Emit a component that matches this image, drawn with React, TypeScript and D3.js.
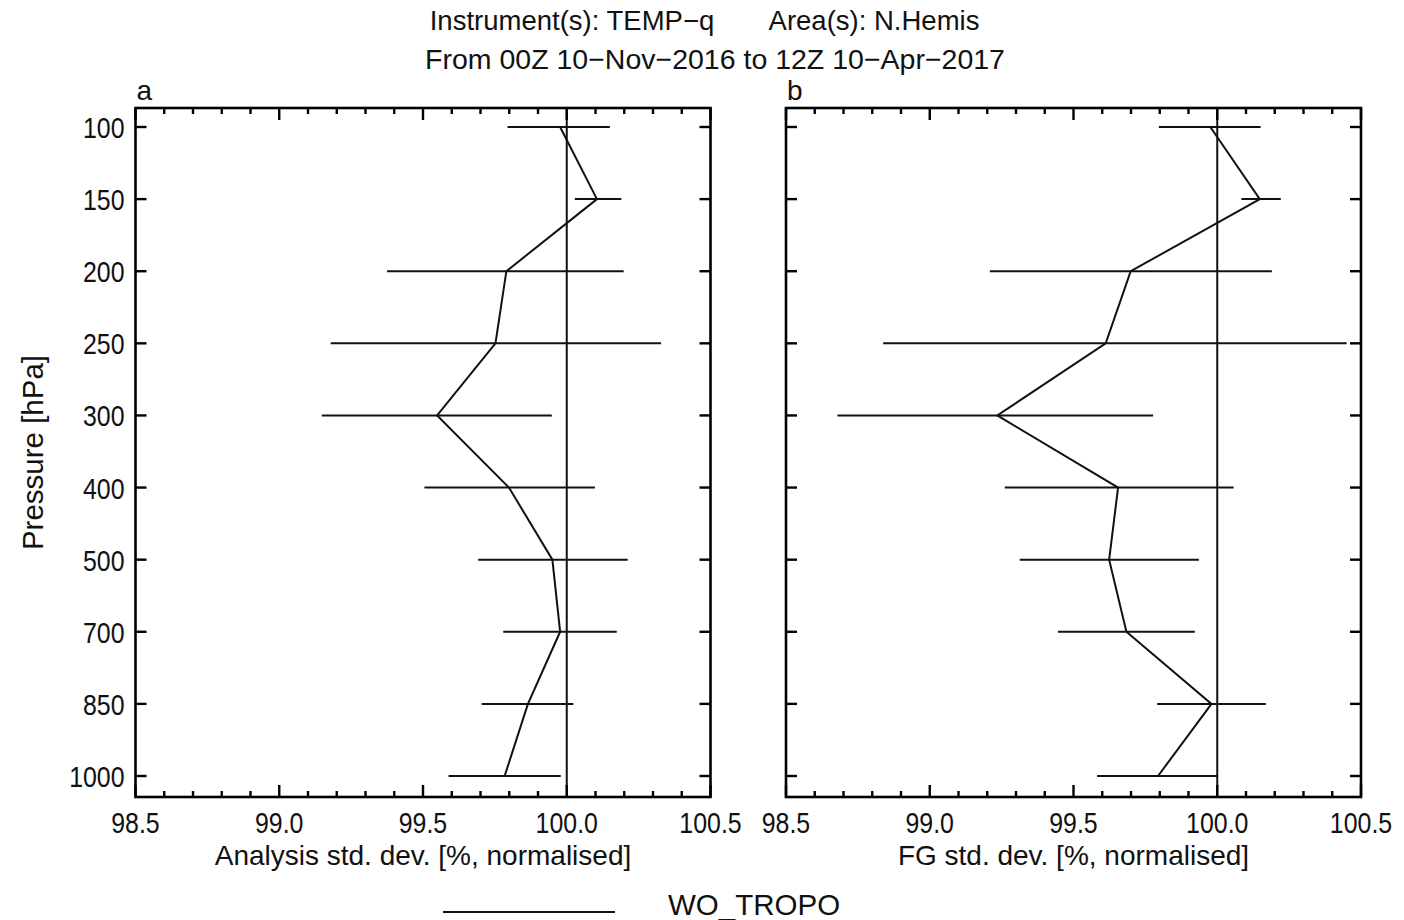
import React from "react";
import * as d3 from "d3";

const levels = [100, 150, 200, 250, 300, 400, 500, 700, 850, 1000];

// Panel a: Analysis std. dev.
const anMean = [99.977, 100.105, 99.79, 99.752, 99.549, 99.799, 99.95, 99.977, 99.865, 99.784];
const anLow = [99.794, 100.028, 99.375, 99.179, 99.148, 99.505, 99.692, 99.779, 99.704, 99.589];
const anHigh = [100.15, 100.19, 100.198, 100.328, 99.948, 100.098, 100.212, 100.174, 100.023, 99.979];

// Panel b: FG std. dev.
const fgMean = [99.976, 100.148, 99.699, 99.612, 99.235, 99.655, 99.624, 99.684, 99.98, 99.794];
const fgLow = [99.797, 100.084, 99.209, 98.838, 98.679, 99.261, 99.313, 99.446, 99.791, 99.582];
const fgHigh = [100.151, 100.221, 100.19, 100.45, 99.777, 100.057, 99.936, 99.922, 100.169, 100.0];

const xTickLabels = ["98.5", "99.0", "99.5", "100.0", "100.5"];
const xMajor = [98.5, 99.0, 99.5, 100.0, 100.5];
const xMinor = d3.range(0, 21).map((i) => 98.5 + i * 0.1);

const titleLine1a = "Instrument(s): TEMP\u2212q";
const titleLine1b = "Area(s): N.Hemis";
const titleLine2 = "From 00Z 10\u2212Nov\u22122016 to 12Z 10\u2212Apr\u22122017";
const panelTitles = ["Analysis std. dev. [%, normalised]", "FG std. dev. [%, normalised]"];
const panelLetters = ["a", "b"];
const yTitle = "Pressure [hPa]";
const legendLabel = "WO_TROPO";

const FONT = "'Liberation Sans', Arial, Helvetica, sans-serif";
const TOP = 108;
const BOTTOM = 797;
const PW = 575;
const panelLefts = [135.5, 786];
const TICK_FS = 30;
const TICK_SX = 0.83;

const yScale = d3.scalePoint<number>().domain(levels).range([127, 776]);

function Panel({ left, mean, low, high, idx }: { left: number; mean: number[]; low: number[]; high: number[]; idx: number }) {
  const x = d3.scaleLinear().domain([98.5, 100.5]).range([left, left + PW]);
  const line = d3
    .line<number>()
    .x((d) => x(d))
    .y((_, i) => yScale(levels[i]) as number);
  const col = "#111";
  return (
    <g>
      <line x1={x(100)} x2={x(100)} y1={TOP} y2={BOTTOM} stroke={col} strokeWidth={2} />
      {levels.map((lv, i) => (
        <line key={"e" + lv} x1={x(low[i])} x2={x(high[i])} y1={yScale(lv)} y2={yScale(lv)} stroke={col} strokeWidth={2} />
      ))}
      <path d={line(mean) || ""} fill="none" stroke={col} strokeWidth={2} strokeLinejoin="miter" />
      <rect x={left} y={TOP} width={PW} height={BOTTOM - TOP} fill="none" stroke="#000" strokeWidth={2.6} />
      {xMinor.map((v, i) => {
        const major = i % 5 === 0;
        const len = major ? 12 : 6;
        return (
          <g key={"xt" + i}>
            <line x1={x(v)} x2={x(v)} y1={BOTTOM} y2={BOTTOM - len} stroke="#000" strokeWidth={2.4} />
            <line x1={x(v)} x2={x(v)} y1={TOP} y2={TOP + len} stroke="#000" strokeWidth={2.4} />
          </g>
        );
      })}
      {levels.map((lv) => (
        <g key={"yt" + lv}>
          <line x1={left} x2={left + 11} y1={yScale(lv)} y2={yScale(lv)} stroke="#000" strokeWidth={2.4} />
          <line x1={left + PW} x2={left + PW - 11} y1={yScale(lv)} y2={yScale(lv)} stroke="#000" strokeWidth={2.4} />
        </g>
      ))}
      {xMajor.map((v, i) => (
        <text
          key={"xl" + i}
          transform={`translate(${x(v)},833) scale(${TICK_SX},1)`}
          textAnchor="middle"
          fontSize={TICK_FS}
          fontFamily={FONT}
          fill="#111"
        >
          {xTickLabels[i]}
        </text>
      ))}
      <text x={left + PW / 2} y={865} textAnchor="middle" fontSize={28} fontFamily={FONT} fill="#111">
        {panelTitles[idx]}
      </text>
      <text x={left + 1} y={100} fontSize={28} fontFamily={FONT} fill="#111">
        {panelLetters[idx]}
      </text>
      {idx === 0 &&
        levels.map((lv) => (
          <text
            key={"yl" + lv}
            transform={`translate(${left - 11},${(yScale(lv) as number) + 11}) scale(${TICK_SX},1)`}
            textAnchor="end"
            fontSize={TICK_FS}
            fontFamily={FONT}
            fill="#111"
          >
            {lv}
          </text>
        ))}
    </g>
  );
}

export default function App() {
  return (
    <svg width={1404} height={920} style={{ position: "absolute", left: 0, top: 0, background: "#fff" }}>
      <rect x={0} y={0} width={1404} height={920} fill="#fff" />
      <text x={572} y={30} textAnchor="middle" fontSize={27.5} fontFamily={FONT} fill="#111">
        {titleLine1a}
      </text>
      <text x={874} y={30} textAnchor="middle" fontSize={27.5} fontFamily={FONT} fill="#111">
        {titleLine1b}
      </text>
      <text x={715} y={69} textAnchor="middle" fontSize={28.5} fontFamily={FONT} fill="#111">
        {titleLine2}
      </text>
      <text transform={`translate(43,${(TOP + BOTTOM) / 2}) rotate(-90)`} textAnchor="middle" fontSize={29.5} fontFamily={FONT} fill="#111">
        {yTitle}
      </text>
      <Panel left={panelLefts[0]} mean={anMean} low={anLow} high={anHigh} idx={0} />
      <Panel left={panelLefts[1]} mean={fgMean} low={fgLow} high={fgHigh} idx={1} />
      <line x1={443} x2={615} y1={912} y2={912} stroke="#111" strokeWidth={2} />
      <text x={668} y={915} fontSize={29.5} fontFamily={FONT} fill="#111">
        {legendLabel}
      </text>
    </svg>
  );
}
